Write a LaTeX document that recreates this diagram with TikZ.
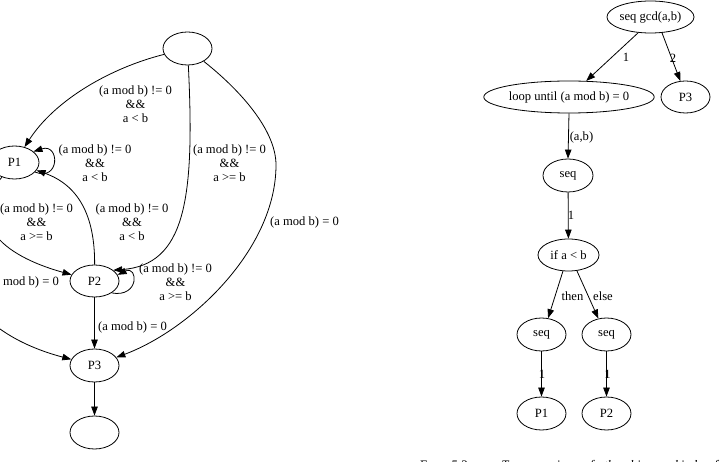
\documentclass[tikz,border=0pt]{standalone}
\usepackage{fontspec}
\setmainfont{Liberation Serif}
\usetikzlibrary{shapes.geometric,arrows.meta}
\begin{document}
\begin{tikzpicture}[x=1pt,y=-1pt,
  every node/.style={font=\fontsize{12.6}{14}\selectfont},
  st/.style={draw,ellipse,line width=0.8pt,inner sep=0pt,minimum width=49pt,minimum height=33pt},
  lbl/.style={align=center,inner sep=0pt},
  conn/.style={line width=0.8pt,-{Triangle[length=9pt,width=6.5pt]}},
]
\useasboundingbox (0,0) rectangle (726,462);
\clip (0,0) rectangle (726,462);

% ---------- left graph ----------
\node[st] (top) at (187.5,48.5) {};
\node[st] (p1) at (14.5,162.5) {P1};
\node[st,minimum height=32pt] (p2) at (94.5,281) {P2};
\node[st] (p3) at (94.5,365.5) {P3};
\node[st] (bot) at (94.5,432.5) {};

\draw[conn] (top) .. controls (110,68) and (55,100) .. (p1);
\draw[conn] (p1.-25) .. controls (60,182) and (60,143) .. (p1.30);
\draw[conn] (p2) .. controls (95,215) and (78,185) .. (p1);
\draw[conn] (p1) .. controls (-35,220) and (0,255) .. (p2);
\draw[conn] (top) .. controls (195,200) and (185,265) .. (p2.30);
\draw[conn] (p2.-35) .. controls (140,298) and (138,265) .. (p2.15);
\draw[conn] (p1) .. controls (-80,250) and (-40,330) .. (p3);
\draw[conn] (p2) -- (p3);
\draw[conn] (top) .. controls (240,90) and (276,130) .. (276,165)
                  .. controls (276,250) and (190,330) .. (p3);
\draw[conn] (p3) -- (bot);

\node[lbl] (l1) at (135.5,104) {(a mod b) != 0\\\&\&\\a < b};
\node[lbl] (l2) at (95,163) {(a mod b) != 0\\\&\&\\a < b};
\node[lbl] (l3) at (229.5,163) {(a mod b) != 0\\\&\&\\a >= b};
\node[lbl] (l4) at (132,222) {(a mod b) != 0\\\&\&\\a < b};
\node[lbl] (l5) at (36.5,222) {(a mod b) != 0\\\&\&\\a >= b};
\node[lbl] (l6) at (304.5,222) {(a mod b) = 0};
\node[lbl] (l7) at (24.5,282) {(a mod b) = 0};
\node[lbl] (l8) at (175.5,282) {(a mod b) != 0\\\&\&\\a >= b};
\node[lbl] (l9) at (132.5,327) {(a mod b) = 0};

% ---------- right tree ----------
\node[st,minimum width=85pt,minimum height=32pt] (gcd) at (650.5,17) {seq gcd(a,b)};
\node[st,minimum width=154pt,minimum height=32pt] (loop) at (569,97) {loop until (a mod b) = 0};
\node[st,minimum height=32pt] (p3r) at (685.5,97) {P3};
\node[st,minimum width=50pt] (seq1) at (568,175.5) {seq};
\node[st,minimum width=61pt,minimum height=32pt] (ifab) at (568.5,255) {if a < b};
\node[st] (seqt) at (541.5,334.5) {seq};
\node[st] (seqe) at (606.5,334.5) {seq};
\node[st] (p1r) at (541.5,413.5) {P1};
\node[st] (p2r) at (606.5,413.5) {P2};

\draw[conn] (gcd.232) -- (loop.43);
\draw[conn] (gcd.-54) -- (p3r.108);
\draw[conn] (loop.south) -- (seq1.north);
\draw[conn] (seq1) -- (ifab);
\draw[conn] (ifab.251) -- (seqt.68);
\draw[conn] (ifab.-62) -- (seqe.117);
\draw[conn] (seqt) -- (p1r);
\draw[conn] (seqe) -- (p2r);

\node[lbl] (r1) at (626,57) {1};
\node[lbl] (r2) at (673,58) {2};
\node[lbl] (r3) at (581.5,137) {(a,b)};
\node[lbl] (r4) at (571,215) {1};
\node[lbl] (r5) at (572.5,296) {then};
\node[lbl] (r6) at (603,296) {else};
\node[lbl] (r7) at (542,374) {1};
\node[lbl] (r8) at (607.5,374) {1};

% ---------- caption (cut off at the bottom edge) ----------
\node[anchor=base west,inner sep=0pt,font=\fontsize{13}{15}\selectfont] (cap) at (420,469)
  {\makebox[312pt][s]{F{\fontsize{10}{15}\selectfont IG}. 5.2 -- \hspace{6pt}\textit{Tree version of the binary kind of t}}};
\end{tikzpicture}
\end{document}
